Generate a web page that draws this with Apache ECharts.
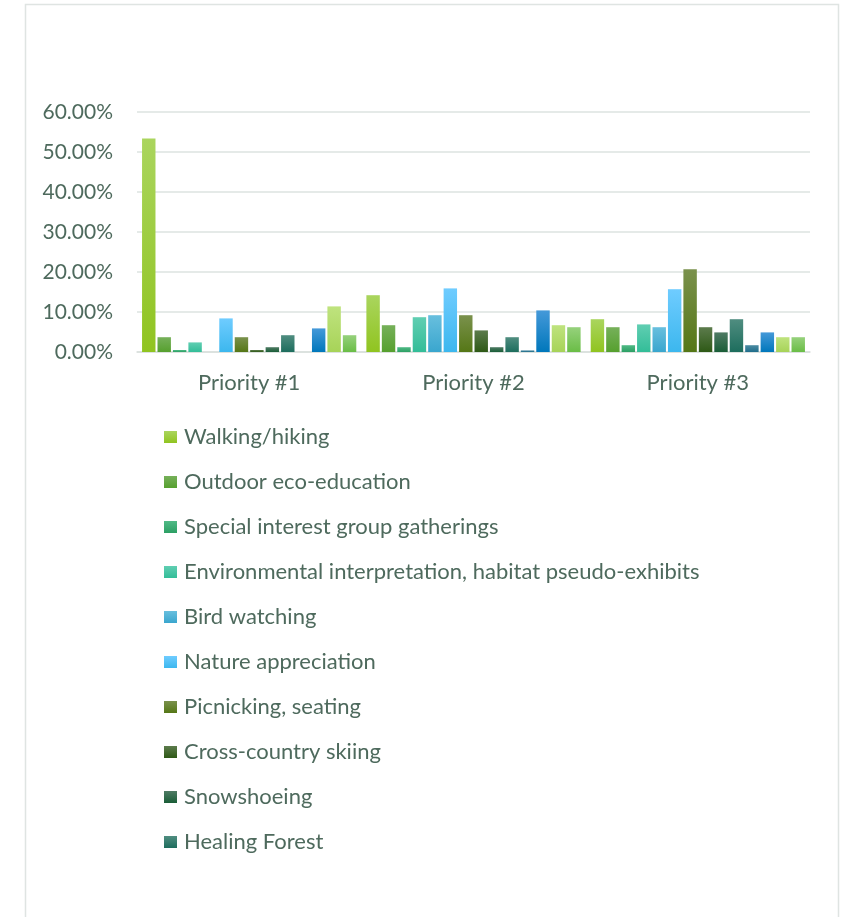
<!DOCTYPE html>
<html>
<head>
<meta charset="utf-8">
<script src="https://cdn.jsdelivr.net/npm/echarts@6/dist/echarts.min.js"></script>
<style>
html,body{margin:0;padding:0;background:#fff;}
#chart{width:842px;height:917px;}
</style>
</head>
<body>
<div id="chart"></div>
<script>
// ---- data ----
const categories = ['Priority #1', 'Priority #2', 'Priority #3'];
const yTicks = [0, 10, 20, 30, 40, 50, 60];

const walkingHiking      = [53.4, 14.2, 8.2];
const outdoorEcoEdu      = [3.7, 6.7, 6.2];
const specialInterest    = [0.5, 1.2, 1.7];
const envInterpretation  = [2.4, 8.7, 6.9];
const birdWatching       = [0, 9.2, 6.2];
const natureAppreciation = [8.4, 15.9, 15.7];
const picnicking         = [3.7, 9.2, 20.7];
const crossCountrySkiing = [0.5, 5.4, 6.2];
const snowshoeing        = [1.2, 1.2, 4.9];
const healingForest      = [4.2, 3.7, 8.2];
const series11           = [0, 0.4, 1.7];
const series12           = [5.9, 10.4, 4.9];
const series13           = [11.4, 6.7, 3.7];
const series14           = [4.2, 6.2, 3.7];

const seriesNames = [
  'Walking/hiking', 'Outdoor eco-education', 'Special interest group gatherings',
  'Environmental interpretation, habitat pseudo-exhibits', 'Bird watching',
  'Nature appreciation', 'Picnicking, seating', 'Cross-country skiing',
  'Snowshoeing', 'Healing Forest', 'Series 11', 'Series 12', 'Series 13', 'Series 14'
];
const seriesValues = [
  walkingHiking, outdoorEcoEdu, specialInterest, envInterpretation, birdWatching,
  natureAppreciation, picnicking, crossCountrySkiing, snowshoeing, healingForest,
  series11, series12, series13, series14
];
const legendNames = seriesNames.slice(0, 10);

// ---- styles ----
const gradColors = [
  ['#AAD55E', '#90C420'],
  ['#76B05A', '#56A02E'],
  ['#50BA86', '#2C9F64'],
  ['#60CEB2', '#33BD98'],
  ['#68BFDE', '#3AA6CE'],
  ['#6FCCFF', '#3CB7EE'],
  ['#7A914C', '#557716'],
  ['#5C7B4C', '#2E5916'],
  ['#4F7B64', '#195D37'],
  ['#508D80', '#1D6D5D'],
  ['#4C8BA2', '#1F6D8B'],
  ['#4599D9', '#0077BB'],
  ['#BFE37E', '#A7D358'],
  ['#96D17C', '#6ABD46']
];
const labelColor = '#4E6A5D';
const fontFam = 'Lato, "Open Sans", sans-serif';

const chart = echarts.init(document.getElementById('chart'));
const series = seriesNames.map((name, i) => ({
  name: name,
  type: 'bar',
  barCategoryGap: '4.5%',
  barGap: '15%',
  data: seriesValues[i],
  itemStyle: {
    color: new echarts.graphic.LinearGradient(0, 0, 0, 1, [
      { offset: 0, color: gradColors[i][0] },
      { offset: 1, color: gradColors[i][1] }
    ])
  },
  emphasis: { disabled: true }
}));

chart.setOption({
  animation: false,
  backgroundColor: '#ffffff',
  graphic: [{
    type: 'rect',
    shape: { x: 25.5, y: 4.5, width: 813, height: 960 },
    style: { fill: 'none', stroke: '#DFE4E2', lineWidth: 1.5 },
    silent: true
  }],
  grid: { left: 137, right: 32, top: 112, height: 240, containLabel: false },
  legend: {
    data: legendNames,
    orient: 'vertical',
    left: 164,
    top: 425,
    padding: 0,
    itemWidth: 13,
    itemHeight: 12,
    itemGap: 21,
    icon: 'rect',
    textStyle: { fontFamily: fontFam, fontSize: 22, color: labelColor, lineHeight: 24, padding: [0, 0, 0, 2] }
  },
  xAxis: {
    type: 'category',
    data: categories,
    axisLine: { show: true, lineStyle: { color: '#D9DFDC', width: 1.5 } },
    axisTick: { show: false },
    axisLabel: { fontFamily: fontFam, fontSize: 22, color: labelColor, margin: 20 }
  },
  yAxis: {
    type: 'value',
    min: yTicks[0],
    max: yTicks[yTicks.length - 1],
    interval: 10,
    axisLine: { show: false },
    axisTick: { show: false },
    splitLine: { lineStyle: { color: '#DDE3E0', width: 1.5 } },
    axisLabel: {
      fontFamily: fontFam, fontSize: 21, color: labelColor, margin: 24,
      formatter: v => v.toFixed(2) + '%'
    }
  },
  series: series
});
</script>
</body>
</html>
